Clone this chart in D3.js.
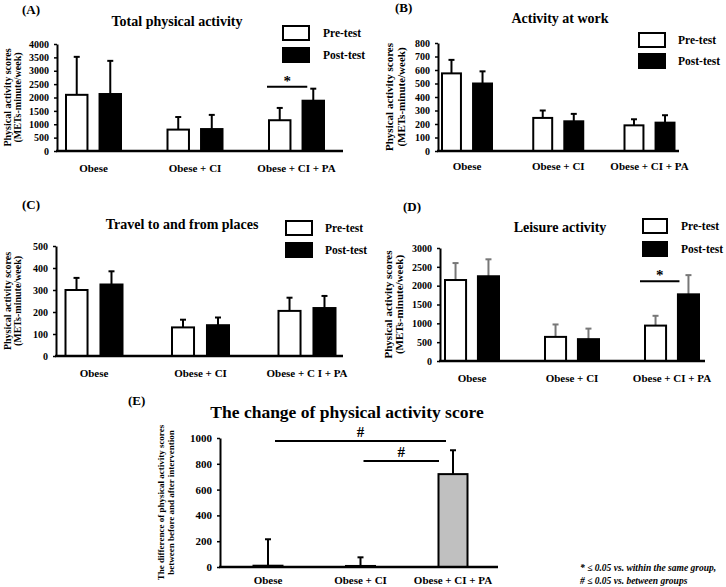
<!DOCTYPE html>
<html>
<head>
<meta charset="utf-8">
<script src="https://cdn.jsdelivr.net/npm/d3@7"></script>
<style>
body { margin: 0; background: #fff; }
svg { display: block; font-family: "Liberation Serif", "Times New Roman", serif; font-weight: bold; }
</style>
</head>
<body>
<div id="container"></div>
<script>
// categories and series
let groups = ["Obese", "Obese + CI", "Obese + CI + PA"];
let groupsTravel = ["Obese", "Obese + CI", "Obese + C I + PA"];
let series = ["Pre-test", "Post-test"];

// (A) total physical activity, means and SD
let totalPre = [2100, 800, 1150];
let totalPreSD = [1420, 470, 460];
let totalPost = [2130, 820, 1880];
let totalPostSD = [1240, 530, 450];
let totalTicks = [0, 500, 1000, 1500, 2000, 2500, 3000, 3500, 4000];

// (B) activity at work
let workPre = [575, 245, 190];
let workPreSD = [100, 55, 45];
let workPost = [500, 220, 210];
let workPostSD = [90, 55, 55];
let workTicks = [0, 100, 200, 300, 400, 500, 600, 700, 800];

// (C) travel to and from places
let travelPre = [300, 130, 205];
let travelPreSD = [55, 35, 60];
let travelPost = [325, 140, 218];
let travelPostSD = [60, 35, 55];
let travelTicks = [0, 100, 200, 300, 400, 500];

// (D) leisure activity
let leisurePre = [2150, 640, 940];
let leisurePreSD = [450, 330, 260];
let leisurePost = [2250, 580, 1770];
let leisurePostSD = [450, 280, 510];
let leisureTicks = [0, 500, 1000, 1500, 2000, 2500, 3000];

// (E) change of score
let changeVals = [10, 8, 720];
let changeSD = [205, 67, 185];
let changeTicks = [0, 200, 400, 600, 800, 1000];

let notes = ['* \u2264 0.05 vs. within the same group,', '# \u2264 0.05 vs. between groups'];

let W = 726, H = 587;
let svg = d3.select('#container').append('svg')
    .attr('width', W)
    .attr('height', H);

let panels = [
    {
        tag: '(A)', tagX: 22, tagY: 14,
        title: 'Total physical activity', titleX: 177, titleY: 26, titleSize: 14,
        cats: groups, ser: series, vals: [totalPre, totalPost], sds: [totalPreSD, totalPostSD],
        fills: ['#fff', '#000'], errColor: '#000',
        ticks: totalTicks, max: 4000,
        ax: 57, axEnd: 343, yTop: 44, yBot: 151, c0: 93.5, c1: 296.5, half: 27.5, pad: 0.36,
        labelY: 172,
        yLab: ['Physical activity scores', '(METs-minute/week)'], yLabX: 11, yLabSize: 10, yLabGap: 10,
        legend: { x: 283, y: 26, w: 26, h: 14, gap: 22, tx: 323 },
        sig: [{ from: [2, 0], to: [2, 1], v: 2400, mark: '*', dx: [-2, -6] }]
    },
    {
        tag: '(B)', tagX: 395, tagY: 12,
        title: 'Activity at work', titleX: 560, titleY: 23, titleSize: 14,
        cats: groups, ser: series, vals: [workPre, workPost], sds: [workPreSD, workPostSD],
        fills: ['#fff', '#000'], errColor: '#000',
        ticks: workTicks, max: 800,
        ax: 438, axEnd: 679, yTop: 43, yBot: 151, c0: 467, c1: 649.5, half: 25, pad: 0.39,
        labelY: 170,
        yLab: ['Physical activity scores', '(METs-minute/week)'], yLabX: 393, yLabSize: 11, yLabGap: 12,
        legend: { x: 639, y: 33, w: 26, h: 14, gap: 21, tx: 678 }
    },
    {
        tag: '(C)', tagX: 22, tagY: 209,
        title: 'Travel to and from places', titleX: 182, titleY: 229, titleSize: 14,
        cats: groupsTravel, ser: series, vals: [travelPre, travelPost], sds: [travelPreSD, travelPostSD],
        fills: ['#fff', '#000'], errColor: '#000',
        ticks: travelTicks, max: 500,
        ax: 56, axEnd: 343, yTop: 246, yBot: 356, c0: 94, c1: 307, half: 28.5, pad: 0.37,
        labelY: 377,
        yLab: ['Physical activity scores', '(METs-minute/week)'], yLabX: 11, yLabSize: 10, yLabGap: 10,
        legend: { x: 286, y: 221, w: 26, h: 14, gap: 22, tx: 325 }
    },
    {
        tag: '(D)', tagX: 403, tagY: 211,
        title: 'Leisure activity', titleX: 560, titleY: 232, titleSize: 14,
        cats: groups, ser: series, vals: [leisurePre, leisurePost], sds: [leisurePreSD, leisurePostSD],
        fills: ['#fff', '#000'], errColor: '#777',
        ticks: leisureTicks, max: 3000,
        ax: 440, axEnd: 705, yTop: 248, yBot: 361, c0: 472, c1: 672, half: 27, pad: 0.36,
        labelY: 382,
        yLab: ['Physical activity scores', '(METs-minute/week)'], yLabX: 392, yLabSize: 11, yLabGap: 11,
        legend: { x: 643, y: 219, w: 24, h: 14, gap: 23, tx: 681 },
        sig: [{ from: [2, 0], to: [2, 1], v: 2120, mark: '*', dx: [-5, -9] }]
    },
    {
        tag: '(E)', tagX: 128, tagY: 405,
        title: 'The change of physical activity score', titleX: 347, titleY: 418, titleSize: 17.5,
        cats: groups, ser: ['Change'], vals: [changeVals], sds: [changeSD],
        fills: ['#c0c0c0'], errColor: '#000',
        ticks: changeTicks, max: 1000,
        ax: 220, axEnd: 498, yTop: 438, yBot: 567, c0: 268, c1: 453, half: 14.5, pad: 0,
        labelY: 584,
        yLab: ['The difference of physical activity scores', 'between before and after intervention'], yLabX: 164, yLabSize: 9, yLabGap: 9.5,
        sig: [
            { from: [0, 0], to: [2, 0], v: 977, mark: '#', dx: [7, -7], mid: true },
            { from: [1, 0], to: [2, 0], v: 822, mark: '#', dx: [3, -14], mid: true }
        ]
    }
];

function drawPanel(p) {
    let g = svg.append('g');
    let y = d3.scaleLinear().domain([0, p.max]).range([p.yBot, p.yTop]);
    let x = d3.scalePoint().domain(p.cats).range([p.c0, p.c1]);
    let inner = d3.scaleBand().domain(p.ser).range([-p.half, p.half]).paddingInner(p.pad);
    let bw = inner.bandwidth();

    // y axis
    let axis = g.append('g')
        .attr('transform', `translate(${p.ax},0)`)
        .call(d3.axisLeft(y).tickValues(p.ticks).tickFormat(d3.format('d'))
            .tickSize(3).tickSizeOuter(0).tickPadding(5));
    axis.select('.domain').attr('stroke', '#000').attr('stroke-width', 2);
    axis.selectAll('.tick line').attr('stroke', '#000').attr('stroke-width', 1.5);
    axis.selectAll('.tick text')
        .attr('fill', '#000')
        .style('font-size', p.tag === '(E)' ? '11px' : '10px')
        .style('font-family', '"Liberation Serif", serif')
        .style('font-weight', 'bold');

    // bars with error whiskers
    p.ser.forEach(function (s, si) {
        let rows = p.cats.map(function (c, i) {
            return { cat: c, v: p.vals[si][i], sd: p.sds[si][i] };
        });
        let cx = function (d) { return x(d.cat) + inner(s) + bw / 2; };
        let sg = g.append('g');
        sg.selectAll('line.err').data(rows).enter().append('line')
            .attr('x1', cx).attr('x2', cx)
            .attr('y1', function (d) { return y(d.v); })
            .attr('y2', function (d) { return y(d.v + d.sd); })
            .attr('stroke', p.errColor).attr('stroke-width', 2);
        sg.selectAll('line.cap').data(rows).enter().append('line')
            .attr('x1', function (d) { return cx(d) - 3; })
            .attr('x2', function (d) { return cx(d) + 3; })
            .attr('y1', function (d) { return y(d.v + d.sd); })
            .attr('y2', function (d) { return y(d.v + d.sd); })
            .attr('stroke', p.errColor).attr('stroke-width', 2);
        sg.selectAll('rect').data(rows).enter().append('rect')
            .attr('x', function (d) { return x(d.cat) + inner(s); })
            .attr('y', function (d) { return y(d.v); })
            .attr('width', bw)
            .attr('height', function (d) { return y(0) - y(d.v); })
            .attr('fill', p.fills[si])
            .attr('stroke', '#000')
            .attr('stroke-width', 2);
    });

    // x axis line
    g.append('line')
        .attr('x1', p.ax - 1).attr('x2', p.axEnd)
        .attr('y1', y(0)).attr('y2', y(0))
        .attr('stroke', '#000').attr('stroke-width', 2.5);

    // category labels
    g.selectAll('text.cat').data(p.cats).enter().append('text')
        .attr('x', function (d) { return x(d); })
        .attr('y', p.labelY)
        .attr('text-anchor', 'middle')
        .style('font-size', '11px')
        .text(function (d) { return d; });

    // y axis title (two lines)
    let mid = (p.yTop + p.yBot) / 2;
    p.yLab.forEach(function (t, i) {
        g.append('text')
            .attr('transform', `translate(${p.yLabX + i * p.yLabGap},${mid}) rotate(-90)`)
            .attr('text-anchor', 'middle')
            .style('font-size', p.yLabSize + 'px')
            .text(t);
    });

    // title and panel tag
    g.append('text')
        .attr('x', p.titleX).attr('y', p.titleY)
        .attr('text-anchor', 'middle')
        .style('font-size', p.titleSize + 'px')
        .text(p.title);
    g.append('text')
        .attr('x', p.tagX).attr('y', p.tagY)
        .style('font-size', '13px')
        .text(p.tag);

    // legend
    if (p.legend) {
        let L = p.legend;
        p.ser.forEach(function (s, i) {
            g.append('rect')
                .attr('x', L.x).attr('y', L.y + i * L.gap)
                .attr('width', L.w).attr('height', L.h)
                .attr('fill', p.fills[i]).attr('stroke', '#000').attr('stroke-width', 2);
            g.append('text')
                .attr('x', L.tx).attr('y', L.y + i * L.gap + L.h / 2 + 4)
                .style('font-size', '11.5px')
                .text(s);
        });
    }

    // significance marks
    (p.sig || []).forEach(function (sg) {
        let xa = x(p.cats[sg.from[0]]) + inner(p.ser[sg.from[1]]) + (sg.mid ? bw / 2 : 0) + sg.dx[0];
        let xb = x(p.cats[sg.to[0]]) + inner(p.ser[sg.to[1]]) + bw / 2 + sg.dx[1];
        g.append('line')
            .attr('x1', xa).attr('x2', xb)
            .attr('y1', y(sg.v)).attr('y2', y(sg.v))
            .attr('stroke', '#000').attr('stroke-width', 2);
        g.append('text')
            .attr('x', (xa + xb) / 2).attr('y', y(sg.v) - (sg.mark === '#' ? 4 : 1))
            .attr('text-anchor', 'middle')
            .style('font-size', '15px')
            .text(sg.mark);
    });
}

panels.forEach(drawPanel);

// footnote
svg.selectAll('text.note').data(notes).enter().append('text')
    .attr('x', 580)
    .attr('y', function (d, i) { return 571 + i * 12.5; })
    .style('font-size', '9.5px')
    .style('font-style', 'italic')
    .text(function (d) { return d; });
</script>
</body>
</html>
